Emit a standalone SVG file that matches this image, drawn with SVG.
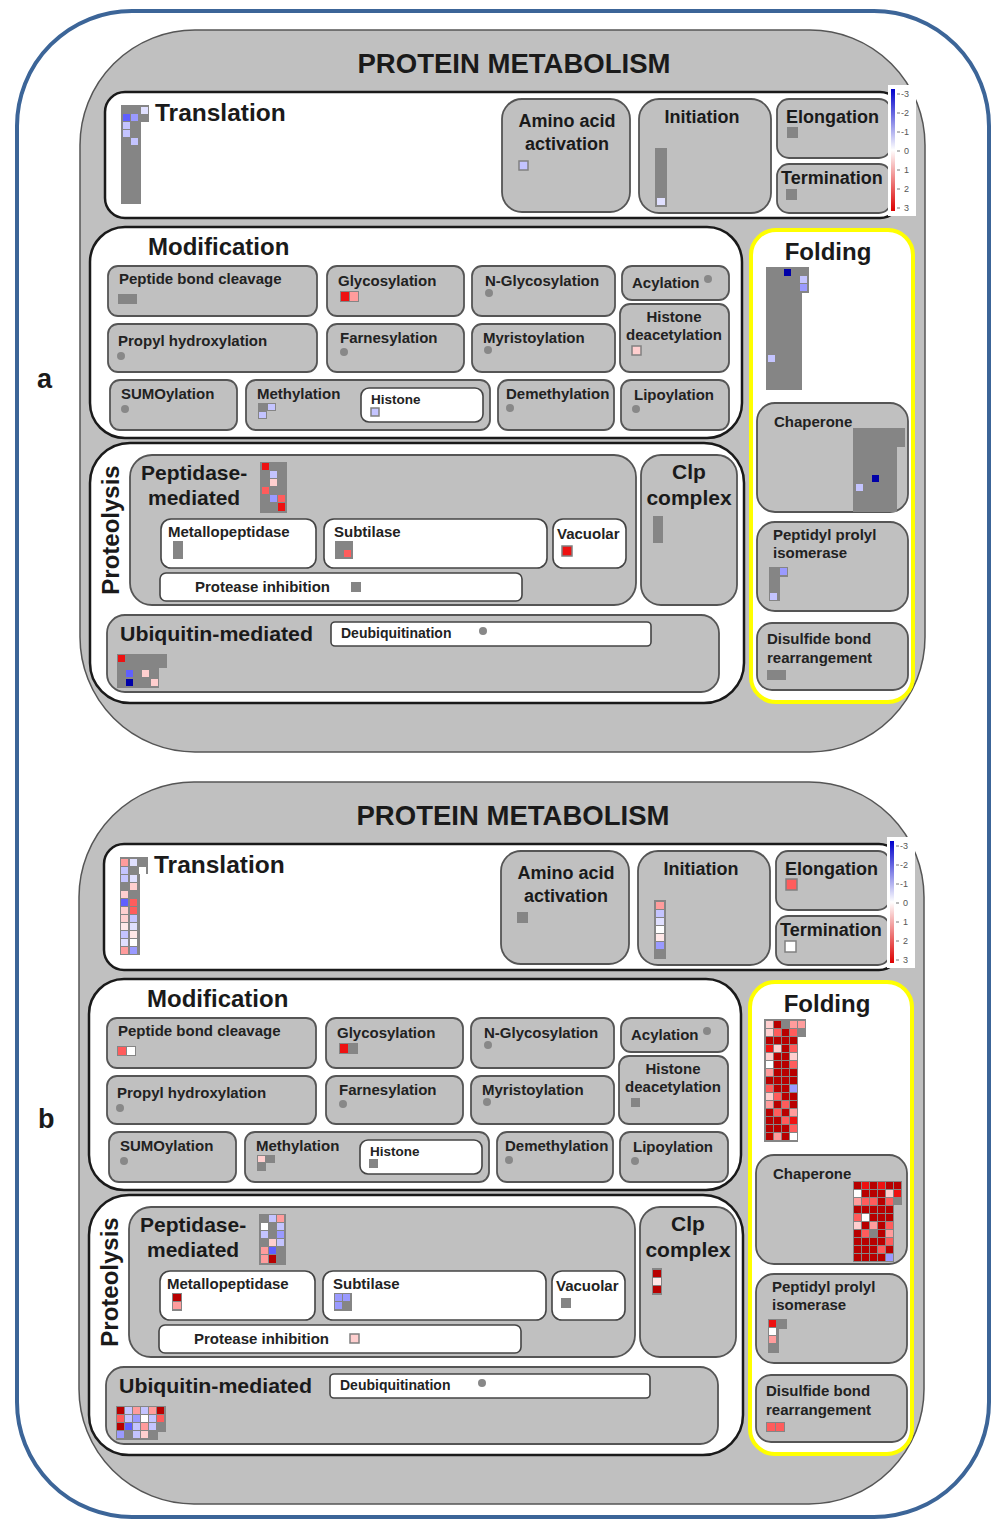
<svg xmlns="http://www.w3.org/2000/svg" width="995" height="1520" viewBox="0 0 995 1520">
<defs>
<linearGradient id="lg" x1="0" y1="0" x2="0" y2="1"><stop offset="0" stop-color="#0000cc"/><stop offset="0.5" stop-color="#ffffff"/><stop offset="1" stop-color="#dd0000"/></linearGradient>
<style>
text{font-family:"Liberation Sans",Arial,sans-serif;font-weight:bold;fill:#1a1a1a}
.pan{fill:#c0c0c0;stroke:#555;stroke-width:1.5}
.wb{fill:#fff;stroke:#1a1a1a;stroke-width:2.5}
.gb{fill:#c0c0c0;stroke:#555;stroke-width:1.8}
.sw{fill:#fff;stroke:#444;stroke-width:1.6}
.fold{fill:#fff;stroke:#ffff00;stroke-width:4}
.h1{font-size:27px}
.h2{font-size:24px}
.tr{font-size:24.5px}
.h3{font-size:18px}
.h4{font-size:21px}
.s{font-size:15px;fill:#222}
.ds{font-size:14px;fill:#222}
.xs{font-size:13.5px;fill:#222}
.lg{font-size:9px;font-weight:normal;fill:#555}
.ab{font-size:27px}
.dot{fill:#888}
.G{fill:#858585}
.D{fill:#b80000}.R{fill:#ee1111}.S{fill:#ff5c5c}.P{fill:#ff9c9c}.L{fill:#ffcfcf}.L2{fill:#ffe8e8}.W{fill:#fff}
.V{fill:#c4c4ff}.V2{fill:#e0e0ff}.U{fill:#9a9aff}.M{fill:#6060ff}.N{fill:#0000a8}
.bd{stroke:#808080;stroke-width:1.5}
</style>
</defs>
<rect x="0" y="0" width="995" height="1520" fill="#fff"/>
<rect id="frame" x="17" y="11" width="972" height="1506" rx="115" ry="115" fill="none" stroke="#3c6598" stroke-width="4"/>
<text class="ab" x="37" y="388">a</text>
<text class="ab" x="38" y="1128">b</text>

<g id="panel-a">
<rect class="pan" x="80" y="30" width="845" height="722" rx="115" ry="115"/>
<text class="h1" x="514" y="73" text-anchor="middle" textLength="313" lengthAdjust="spacingAndGlyphs">PROTEIN METABOLISM</text>
<g id="a-translation"><rect class="wb" x="105" y="92" width="795" height="126" rx="20"/><text class="tr" x="155" y="121">Translation</text>
<rect class="G" x="121" y="105" width="20" height="99"/><rect class="G" x="121" y="105" width="28" height="17"/>
<rect class="V2" x="141" y="107" width="7" height="7"/><rect class="M" x="123" y="114" width="7" height="7"/><rect class="U" x="131" y="114" width="7" height="7"/><rect class="V" x="123" y="122" width="7" height="7"/><rect class="V" x="123" y="130" width="7" height="7"/><rect class="V" x="131" y="138" width="7" height="7"/>
</g>
<g id="a-amino"><rect class="gb" x="502" y="99" width="128" height="113" rx="20"/><text class="h3" x="567" y="127" text-anchor="middle">Amino acid</text><text class="h3" x="567" y="150" text-anchor="middle">activation</text><rect class="V bd" x="519" y="161" width="9" height="9"/></g>
<g id="a-initiation"><rect class="gb" x="639" y="99" width="132" height="114" rx="20"/><text class="h3" x="702" y="123" text-anchor="middle">Initiation</text><rect class="G" x="655" y="148" width="12" height="59"/><rect class="V2" x="657" y="198" width="8" height="7"/></g>
<g id="a-elongation"><rect class="gb" x="777" y="99" width="114" height="59" rx="12"/><text class="h3" x="786" y="123">Elongation</text><rect class="G" x="787" y="127" width="11" height="11"/></g>
<g id="a-termination"><rect class="gb" x="777" y="164" width="114" height="49" rx="12"/><text class="h3" x="781" y="184">Termination</text><rect class="G" x="786" y="189" width="11" height="11"/></g>
<g id="a-legend"><rect x="888" y="85" width="28" height="131" fill="#fff"/><rect x="891" y="89" width="4" height="122" fill="url(#lg)"/>
<g stroke="#777" stroke-width="1"><line x1="897" y1="94" x2="900" y2="94"/><line x1="897" y1="113" x2="900" y2="113"/><line x1="897" y1="132" x2="900" y2="132"/><line x1="897" y1="151" x2="900" y2="151"/><line x1="897" y1="170" x2="900" y2="170"/><line x1="897" y1="189" x2="900" y2="189"/><line x1="897" y1="208" x2="900" y2="208"/></g>
<text class="lg" x="901" y="97">-3</text><text class="lg" x="901" y="116">-2</text><text class="lg" x="901" y="135">-1</text><text class="lg" x="904" y="154">0</text><text class="lg" x="904" y="173">1</text><text class="lg" x="904" y="192">2</text><text class="lg" x="904" y="211">3</text></g>

<g id="a-modification"><rect class="wb" x="90" y="227" width="652" height="211" rx="35"/><text class="h2" x="148" y="255">Modification</text></g>
<g id="a-peptide-bond"><rect class="gb" x="108" y="266" width="209" height="50" rx="10"/><text class="s" x="119" y="284">Peptide bond cleavage</text><rect class="G" x="118" y="294" width="19" height="10"/></g>
<g id="a-glyco"><rect class="gb" x="327" y="266" width="137" height="50" rx="10"/><text class="s" x="338" y="286">Glycosylation</text><rect class="G" x="340" y="291" width="19" height="11"/><rect class="R" x="341" y="292" width="8" height="9"/><rect class="P" x="350" y="292" width="8" height="9"/></g>
<g id="a-nglyco"><rect class="gb" x="472" y="266" width="143" height="50" rx="10"/><text class="s" x="485" y="286">N-Glycosylation</text><circle class="dot" cx="489" cy="293" r="4"/></g>
<g id="a-acylation"><rect class="gb" x="622" y="266" width="107" height="34" rx="10"/><text class="s" x="632" y="288">Acylation</text><circle class="dot" cx="708" cy="279" r="4"/></g>
<g id="a-histone-deac"><rect class="gb" x="620" y="304" width="109" height="68" rx="10"/><text class="s" x="674" y="322" text-anchor="middle">Histone</text><text class="s" x="674" y="340" text-anchor="middle">deacetylation</text><rect class="L bd" x="632" y="346" width="9" height="9"/></g>
<g id="a-propyl"><rect class="gb" x="108" y="324" width="209" height="48" rx="10"/><text class="s" x="118" y="346">Propyl hydroxylation</text><circle class="dot" cx="121" cy="356" r="4"/></g>
<g id="a-farnes"><rect class="gb" x="327" y="324" width="137" height="48" rx="10"/><text class="s" x="340" y="343">Farnesylation</text><circle class="dot" cx="344" cy="352" r="4"/></g>
<g id="a-myrist"><rect class="gb" x="472" y="324" width="143" height="48" rx="10"/><text class="s" x="483" y="343">Myristoylation</text><circle class="dot" cx="488" cy="350" r="4"/></g>
<g id="a-sumo"><rect class="gb" x="110" y="380" width="127" height="50" rx="10"/><text class="s" x="121" y="399">SUMOylation</text><circle class="dot" cx="125" cy="409" r="4"/></g>
<g id="a-methyl"><rect class="gb" x="246" y="380" width="244" height="50" rx="10"/><text class="s" x="257" y="399">Methylation</text><rect class="G" x="258" y="403" width="18" height="8"/><rect class="G" x="258" y="411" width="9" height="8"/><rect class="V" x="268" y="404" width="7" height="6"/><rect class="V" x="259" y="412" width="7" height="6"/></g>
<g id="a-histone"><rect class="sw" x="361" y="388" width="122" height="34" rx="8"/><text class="xs" x="371" y="404">Histone</text><rect class="V bd" x="371" y="408" width="8" height="8"/></g>
<g id="a-demethyl"><rect class="gb" x="498" y="380" width="116" height="50" rx="10"/><text class="s" x="506" y="399">Demethylation</text><circle class="dot" cx="510" cy="408" r="4"/></g>
<g id="a-lipoyl"><rect class="gb" x="621" y="380" width="108" height="50" rx="10"/><text class="s" x="634" y="400">Lipoylation</text><circle class="dot" cx="636" cy="409" r="4"/></g>

<g id="a-proteolysis"><rect class="wb" x="90" y="443" width="654" height="260" rx="40"/><text class="h2" transform="translate(119,530) rotate(-90)" text-anchor="middle">Proteolysis</text></g>
<g id="a-peptidase"><rect class="gb" x="130" y="455" width="506" height="150" rx="22"/><text class="h4" x="141" y="480">Peptidase-</text><text class="h4" x="148" y="505">mediated</text>
<rect class="G" x="260" y="462" width="27" height="51"/><rect class="R" x="262" y="463" width="7" height="7"/><rect class="V" x="270" y="471" width="7" height="7"/><rect class="L" x="270" y="479" width="7" height="7"/><rect class="S" x="262" y="487" width="7" height="7"/><rect class="U" x="270" y="495" width="7" height="7"/><rect class="S" x="278" y="495" width="7" height="7"/><rect class="R" x="278" y="503" width="7" height="8"/></g>
<g id="a-metallo"><rect class="sw" x="161" y="519" width="155" height="49" rx="10"/><text class="s" x="168" y="537">Metallopeptidase</text><rect class="G" x="173" y="541" width="10" height="18"/></g>
<g id="a-subtilase"><rect class="sw" x="324" y="519" width="223" height="49" rx="10"/><text class="s" x="334" y="537">Subtilase</text><rect class="G" x="335" y="541" width="18" height="18"/><rect class="S" x="344" y="550" width="7" height="7"/></g>
<g id="a-vacuolar"><rect class="sw" x="553" y="519" width="73" height="49" rx="10"/><text class="s" x="557" y="539">Vacuolar</text><rect class="R bd" x="562" y="546" width="10" height="10"/></g>
<g id="a-protease-inh"><rect class="sw" x="160" y="573" width="362" height="28" rx="6"/><text class="s" x="195" y="592">Protease inhibition</text><rect class="G" x="351" y="582" width="10" height="10"/></g>
<g id="a-clp"><rect class="gb" x="641" y="455" width="96" height="150" rx="20"/><text class="h4" x="689" y="479" text-anchor="middle">Clp</text><text class="h4" x="689" y="505" text-anchor="middle">complex</text><rect class="G" x="653" y="516" width="10" height="27"/></g>
<g id="a-ubiquitin"><rect class="gb" x="107" y="615" width="612" height="77" rx="18"/><text class="h4" x="120" y="641" textLength="193" lengthAdjust="spacingAndGlyphs">Ubiquitin-mediated</text>
<rect class="G" x="117" y="654" width="50" height="14"/><rect class="G" x="117" y="668" width="42" height="20"/><rect class="R" x="118" y="655" width="7" height="7"/><rect class="M" x="126" y="670" width="7" height="7"/><rect class="L" x="142" y="670" width="7" height="7"/><rect class="N" x="126" y="679" width="7" height="7"/><rect class="L" x="151" y="679" width="7" height="7"/></g>
<g id="a-deubiq"><rect class="sw" x="331" y="622" width="320" height="24" rx="4"/><text class="ds" x="341" y="638">Deubiquitination</text><circle class="dot" cx="483" cy="631" r="4"/></g>

<g id="a-folding"><rect class="fold" x="751" y="230" width="162" height="472" rx="25"/><text class="h2" x="828" y="260" text-anchor="middle">Folding</text>
<rect class="G" x="766" y="267" width="36" height="123"/><rect class="G" x="766" y="267" width="43" height="26"/><rect class="N" x="784" y="269" width="7" height="7"/><rect class="V" x="800" y="276" width="7" height="7"/><rect class="U" x="800" y="284" width="7" height="7"/><rect class="V" x="768" y="355" width="7" height="7"/></g>
<g id="a-chaperone"><rect class="gb" x="757" y="403" width="151" height="109" rx="18"/><text class="s" x="774" y="427">Chaperone</text><rect class="G" x="853" y="428" width="52" height="19"/><rect class="G" x="853" y="447" width="44" height="65"/><rect class="N" x="872" y="475" width="7" height="7"/><rect class="V" x="856" y="484" width="7" height="7"/></g>
<g id="a-peptidyl"><rect class="gb" x="757" y="522" width="151" height="89" rx="18"/><text class="s" x="773" y="540">Peptidyl prolyl</text><text class="s" x="773" y="558">isomerase</text><rect class="G" x="769" y="567" width="19" height="10"/><rect class="G" x="769" y="577" width="11" height="24"/><rect class="U" x="780" y="568" width="7" height="7"/><rect class="V" x="770" y="593" width="7" height="7"/></g>
<g id="a-disulfide"><rect class="gb" x="757" y="623" width="151" height="67" rx="15"/><text class="s" x="767" y="644">Disulfide bond</text><text class="s" x="767" y="663">rearrangement</text><rect class="G" x="767" y="670" width="19" height="10"/></g>
</g>

<g id="panel-b" transform="translate(-1,752)">
<rect class="pan" x="80" y="30" width="845" height="722" rx="115" ry="115"/>
<text class="h1" x="514" y="73" text-anchor="middle" textLength="313" lengthAdjust="spacingAndGlyphs">PROTEIN METABOLISM</text>
<g id="b-translation"><rect class="wb" x="105" y="92" width="795" height="126" rx="20"/><text class="tr" x="155" y="121">Translation</text>
<rect class="G" x="121" y="105" width="20" height="98"/><rect class="G" x="121" y="105" width="28" height="17"/>
<rect class="P" x="122" y="107" width="7" height="7"/><rect class="V2" x="131" y="107" width="7" height="7"/>
<rect class="V" x="122" y="115" width="7" height="7"/><rect class="W" x="140" y="115" width="7" height="7"/>
<rect class="V" x="122" y="123" width="7" height="7"/><rect class="V2" x="131" y="123" width="7" height="7"/>
<rect class="L" x="131" y="131" width="7" height="7"/>
<rect class="L" x="122" y="139" width="7" height="7"/>
<rect class="M" x="122" y="147" width="7" height="7"/><rect class="S" x="131" y="147" width="7" height="7"/>
<rect class="L" x="122" y="155" width="7" height="7"/><rect class="S" x="131" y="155" width="7" height="7"/>
<rect class="L" x="122" y="163" width="7" height="7"/><rect class="V" x="131" y="163" width="7" height="7"/>
<rect class="L2" x="122" y="171" width="7" height="7"/><rect class="V2" x="131" y="171" width="7" height="7"/>
<rect class="V" x="122" y="179" width="7" height="7"/><rect class="L2" x="131" y="179" width="7" height="7"/>
<rect class="V2" x="122" y="187" width="7" height="7"/><rect class="W" x="131" y="187" width="7" height="7"/>
<rect class="P" x="122" y="195" width="7" height="7"/><rect class="U" x="131" y="195" width="7" height="7"/>
</g>
<g id="b-amino"><rect class="gb" x="502" y="99" width="128" height="113" rx="20"/><text class="h3" x="567" y="127" text-anchor="middle">Amino acid</text><text class="h3" x="567" y="150" text-anchor="middle">activation</text><rect class="G" x="518" y="160" width="11" height="11"/></g>
<g id="b-initiation"><rect class="gb" x="639" y="99" width="132" height="114" rx="20"/><text class="h3" x="702" y="123" text-anchor="middle">Initiation</text><rect class="G" x="655" y="148" width="12" height="59"/>
<rect class="P" x="657" y="150" width="8" height="7"/><rect class="V" x="657" y="158" width="8" height="7"/><rect class="V2" x="657" y="166" width="8" height="7"/><rect class="W" x="657" y="174" width="8" height="7"/><rect class="L2" x="657" y="182" width="8" height="7"/><rect class="U" x="657" y="190" width="8" height="7"/></g>
<g id="b-elongation"><rect class="gb" x="777" y="99" width="114" height="59" rx="12"/><text class="h3" x="786" y="123">Elongation</text><rect class="S bd" x="787" y="127" width="11" height="11"/></g>
<g id="b-termination"><rect class="gb" x="777" y="164" width="114" height="49" rx="12"/><text class="h3" x="781" y="184">Termination</text><rect class="W bd" x="786" y="189" width="11" height="11"/></g>
<g id="b-legend"><rect x="888" y="85" width="28" height="131" fill="#fff"/><rect x="891" y="89" width="4" height="122" fill="url(#lg)"/>
<g stroke="#777" stroke-width="1"><line x1="897" y1="94" x2="900" y2="94"/><line x1="897" y1="113" x2="900" y2="113"/><line x1="897" y1="132" x2="900" y2="132"/><line x1="897" y1="151" x2="900" y2="151"/><line x1="897" y1="170" x2="900" y2="170"/><line x1="897" y1="189" x2="900" y2="189"/><line x1="897" y1="208" x2="900" y2="208"/></g>
<text class="lg" x="901" y="97">-3</text><text class="lg" x="901" y="116">-2</text><text class="lg" x="901" y="135">-1</text><text class="lg" x="904" y="154">0</text><text class="lg" x="904" y="173">1</text><text class="lg" x="904" y="192">2</text><text class="lg" x="904" y="211">3</text></g>

<g id="b-modification"><rect class="wb" x="90" y="227" width="652" height="211" rx="35"/><text class="h2" x="148" y="255">Modification</text></g>
<g id="b-peptide-bond"><rect class="gb" x="108" y="266" width="209" height="50" rx="10"/><text class="s" x="119" y="284">Peptide bond cleavage</text><rect class="G" x="118" y="294" width="19" height="10"/><rect class="S" x="119" y="295" width="8" height="8"/><rect class="W" x="128" y="295" width="8" height="8"/></g>
<g id="b-glyco"><rect class="gb" x="327" y="266" width="137" height="50" rx="10"/><text class="s" x="338" y="286">Glycosylation</text><rect class="G" x="340" y="291" width="19" height="11"/><rect class="R" x="341" y="292" width="8" height="9"/></g>
<g id="b-nglyco"><rect class="gb" x="472" y="266" width="143" height="50" rx="10"/><text class="s" x="485" y="286">N-Glycosylation</text><circle class="dot" cx="489" cy="293" r="4"/></g>
<g id="b-acylation"><rect class="gb" x="622" y="266" width="107" height="34" rx="10"/><text class="s" x="632" y="288">Acylation</text><circle class="dot" cx="708" cy="279" r="4"/></g>
<g id="b-histone-deac"><rect class="gb" x="620" y="304" width="109" height="68" rx="10"/><text class="s" x="674" y="322" text-anchor="middle">Histone</text><text class="s" x="674" y="340" text-anchor="middle">deacetylation</text><rect class="G" x="632" y="346" width="9" height="9"/></g>
<g id="b-propyl"><rect class="gb" x="108" y="324" width="209" height="48" rx="10"/><text class="s" x="118" y="346">Propyl hydroxylation</text><circle class="dot" cx="121" cy="356" r="4"/></g>
<g id="b-farnes"><rect class="gb" x="327" y="324" width="137" height="48" rx="10"/><text class="s" x="340" y="343">Farnesylation</text><circle class="dot" cx="344" cy="352" r="4"/></g>
<g id="b-myrist"><rect class="gb" x="472" y="324" width="143" height="48" rx="10"/><text class="s" x="483" y="343">Myristoylation</text><circle class="dot" cx="488" cy="350" r="4"/></g>
<g id="b-sumo"><rect class="gb" x="110" y="380" width="127" height="50" rx="10"/><text class="s" x="121" y="399">SUMOylation</text><circle class="dot" cx="125" cy="409" r="4"/></g>
<g id="b-methyl"><rect class="gb" x="246" y="380" width="244" height="50" rx="10"/><text class="s" x="257" y="399">Methylation</text><rect class="G" x="258" y="403" width="18" height="8"/><rect class="G" x="258" y="411" width="9" height="8"/><rect class="L" x="259" y="404" width="7" height="6"/></g>
<g id="b-histone"><rect class="sw" x="361" y="388" width="122" height="34" rx="8"/><text class="xs" x="371" y="404">Histone</text><rect class="G" x="370" y="407" width="9" height="9"/></g>
<g id="b-demethyl"><rect class="gb" x="498" y="380" width="116" height="50" rx="10"/><text class="s" x="506" y="399">Demethylation</text><circle class="dot" cx="510" cy="408" r="4"/></g>
<g id="b-lipoyl"><rect class="gb" x="621" y="380" width="108" height="50" rx="10"/><text class="s" x="634" y="400">Lipoylation</text><circle class="dot" cx="636" cy="409" r="4"/></g>

<g id="b-proteolysis"><rect class="wb" x="90" y="443" width="654" height="260" rx="40"/><text class="h2" transform="translate(119,530) rotate(-90)" text-anchor="middle">Proteolysis</text></g>
<g id="b-peptidase"><rect class="gb" x="130" y="455" width="506" height="150" rx="22"/><text class="h4" x="141" y="480">Peptidase-</text><text class="h4" x="148" y="505">mediated</text>
<rect class="G" x="260" y="462" width="27" height="51"/>
<rect class="V" x="270" y="463" width="7" height="7"/><rect class="P" x="278" y="463" width="7" height="7"/>
<rect class="W" x="262" y="471" width="7" height="7"/><rect class="V" x="278" y="471" width="7" height="7"/>
<rect class="V" x="262" y="479" width="7" height="7"/><rect class="U" x="278" y="479" width="7" height="7"/>
<rect class="L" x="270" y="487" width="7" height="7"/><rect class="V" x="278" y="487" width="7" height="7"/>
<rect class="P" x="262" y="495" width="7" height="7"/><rect class="M" x="270" y="495" width="7" height="7"/>
<rect class="P" x="262" y="503" width="7" height="8"/><rect class="D" x="270" y="503" width="7" height="8"/></g>
<g id="b-metallo"><rect class="sw" x="161" y="519" width="155" height="49" rx="10"/><text class="s" x="168" y="537">Metallopeptidase</text><rect class="G" x="173" y="541" width="10" height="18"/><rect class="D" x="174" y="542" width="8" height="7"/><rect class="P" x="174" y="550" width="8" height="7"/></g>
<g id="b-subtilase"><rect class="sw" x="324" y="519" width="223" height="49" rx="10"/><text class="s" x="334" y="537">Subtilase</text><rect class="G" x="335" y="541" width="18" height="18"/><rect class="U" x="336" y="542" width="7" height="7"/><rect class="U" x="344" y="542" width="7" height="7"/><rect class="U" x="336" y="550" width="7" height="7"/></g>
<g id="b-vacuolar"><rect class="sw" x="553" y="519" width="73" height="49" rx="10"/><text class="s" x="557" y="539">Vacuolar</text><rect class="G" x="562" y="546" width="10" height="10"/></g>
<g id="b-protease-inh"><rect class="sw" x="160" y="573" width="362" height="28" rx="6"/><text class="s" x="195" y="592">Protease inhibition</text><rect class="L bd" x="351" y="582" width="9" height="9"/></g>
<g id="b-clp"><rect class="gb" x="641" y="455" width="96" height="150" rx="20"/><text class="h4" x="689" y="479" text-anchor="middle">Clp</text><text class="h4" x="689" y="505" text-anchor="middle">complex</text><rect class="G" x="653" y="516" width="10" height="27"/><rect class="D" x="654" y="518" width="8" height="7"/><rect class="L2" x="654" y="526" width="8" height="7"/><rect class="D" x="654" y="534" width="8" height="7"/></g>
<g id="b-ubiquitin"><rect class="gb" x="107" y="615" width="612" height="77" rx="18"/><text class="h4" x="120" y="641" textLength="193" lengthAdjust="spacingAndGlyphs">Ubiquitin-mediated</text>
<rect class="G" x="117" y="654" width="50" height="26"/><rect class="G" x="117" y="680" width="42" height="8"/>
<rect class="D" x="118" y="655" width="7" height="7"/><rect class="V" x="126" y="655" width="7" height="7"/><rect class="P" x="134" y="655" width="7" height="7"/><rect class="V" x="142" y="655" width="7" height="7"/><rect class="P" x="150" y="655" width="7" height="7"/><rect class="D" x="158" y="655" width="7" height="7"/>
<rect class="S" x="118" y="663" width="7" height="7"/><rect class="V" x="126" y="663" width="7" height="7"/><rect class="U" x="134" y="663" width="7" height="7"/><rect class="W" x="142" y="663" width="7" height="7"/><rect class="V" x="150" y="663" width="7" height="7"/><rect class="S" x="158" y="663" width="7" height="7"/>
<rect class="D" x="118" y="671" width="7" height="7"/><rect class="M" x="126" y="671" width="7" height="7"/><rect class="V" x="134" y="671" width="7" height="7"/><rect class="P" x="142" y="671" width="7" height="7"/><rect class="V" x="150" y="671" width="7" height="7"/>
<rect class="U" x="118" y="679" width="7" height="7"/><rect class="V" x="134" y="679" width="7" height="7"/><rect class="L" x="142" y="679" width="7" height="7"/></g>
<g id="b-deubiq"><rect class="sw" x="331" y="622" width="320" height="24" rx="4"/><text class="ds" x="341" y="638">Deubiquitination</text><circle class="dot" cx="483" cy="631" r="4"/></g>

<g id="b-folding"><rect class="fold" x="751" y="230" width="162" height="472" rx="25"/><text class="h2" x="828" y="260" text-anchor="middle">Folding</text>
<rect class="G" x="765" y="267" width="34" height="123"/><rect class="G" x="765" y="267" width="42" height="18"/>
<rect class="L" x="767" y="269" width="7" height="7"/><rect class="D" x="775" y="269" width="7" height="7"/><rect class="P" x="791" y="269" width="7" height="7"/><rect class="P" x="799" y="269" width="7" height="7"/>
<rect class="L" x="767" y="277" width="7" height="7"/><rect class="S" x="775" y="277" width="7" height="7"/><rect class="D" x="783" y="277" width="7" height="7"/><rect class="S" x="791" y="277" width="7" height="7"/>
<rect class="D" x="767" y="285" width="7" height="7"/><rect class="D" x="775" y="285" width="7" height="7"/><rect class="D" x="783" y="285" width="7" height="7"/><rect class="D" x="791" y="285" width="7" height="7"/>
<rect class="R" x="767" y="293" width="7" height="7"/><rect class="L" x="775" y="293" width="7" height="7"/><rect class="D" x="783" y="293" width="7" height="7"/><rect class="S" x="791" y="293" width="7" height="7"/>
<rect class="L" x="767" y="301" width="7" height="7"/><rect class="D" x="775" y="301" width="7" height="7"/><rect class="D" x="783" y="301" width="7" height="7"/><rect class="L" x="791" y="301" width="7" height="7"/>
<rect class="W" x="767" y="309" width="7" height="7"/><rect class="D" x="775" y="309" width="7" height="7"/><rect class="D" x="783" y="309" width="7" height="7"/><rect class="S" x="791" y="309" width="7" height="7"/>
<rect class="P" x="767" y="317" width="7" height="7"/><rect class="D" x="775" y="317" width="7" height="7"/><rect class="D" x="783" y="317" width="7" height="7"/><rect class="D" x="791" y="317" width="7" height="7"/>
<rect class="D" x="767" y="325" width="7" height="7"/><rect class="D" x="775" y="325" width="7" height="7"/><rect class="D" x="783" y="325" width="7" height="7"/><rect class="D" x="791" y="325" width="7" height="7"/>
<rect class="S" x="767" y="333" width="7" height="7"/><rect class="D" x="775" y="333" width="7" height="7"/><rect class="D" x="783" y="333" width="7" height="7"/><rect class="U" x="791" y="333" width="7" height="7"/>
<rect class="L" x="767" y="341" width="7" height="7"/><rect class="S" x="775" y="341" width="7" height="7"/><rect class="D" x="783" y="341" width="7" height="7"/><rect class="D" x="791" y="341" width="7" height="7"/>
<rect class="P" x="767" y="349" width="7" height="7"/><rect class="D" x="775" y="349" width="7" height="7"/><rect class="S" x="783" y="349" width="7" height="7"/><rect class="D" x="791" y="349" width="7" height="7"/>
<rect class="D" x="767" y="357" width="7" height="7"/><rect class="S" x="775" y="357" width="7" height="7"/><rect class="D" x="783" y="357" width="7" height="7"/><rect class="P" x="791" y="357" width="7" height="7"/>
<rect class="D" x="767" y="365" width="7" height="7"/><rect class="D" x="775" y="365" width="7" height="7"/><rect class="S" x="783" y="365" width="7" height="7"/><rect class="R" x="791" y="365" width="7" height="7"/>
<rect class="D" x="767" y="373" width="7" height="7"/><rect class="D" x="775" y="373" width="7" height="7"/><rect class="D" x="783" y="373" width="7" height="7"/><rect class="S" x="791" y="373" width="7" height="7"/>
<rect class="D" x="767" y="381" width="7" height="7"/><rect class="P" x="775" y="381" width="7" height="7"/><rect class="D" x="783" y="381" width="7" height="7"/><rect class="W" x="791" y="381" width="7" height="7"/>
</g>
<g id="b-chaperone"><rect class="gb" x="757" y="403" width="151" height="109" rx="18"/><text class="s" x="774" y="427">Chaperone</text>
<rect class="G" x="854" y="429" width="49" height="24"/><rect class="G" x="854" y="429" width="41" height="81"/>
<rect class="D" x="855" y="430" width="7" height="7"/><rect class="R" x="863" y="430" width="7" height="7"/><rect class="D" x="871" y="430" width="7" height="7"/><rect class="R" x="879" y="430" width="7" height="7"/><rect class="D" x="887" y="430" width="7" height="7"/><rect class="D" x="895" y="430" width="7" height="7"/>
<rect class="W" x="855" y="438" width="7" height="7"/><rect class="D" x="863" y="438" width="7" height="7"/><rect class="D" x="871" y="438" width="7" height="7"/><rect class="D" x="879" y="438" width="7" height="7"/><rect class="L" x="887" y="438" width="7" height="7"/><rect class="R" x="895" y="438" width="7" height="7"/>
<rect class="P" x="855" y="446" width="7" height="7"/><rect class="S" x="863" y="446" width="7" height="7"/><rect class="S" x="871" y="446" width="7" height="7"/><rect class="D" x="879" y="446" width="7" height="7"/><rect class="S" x="887" y="446" width="7" height="7"/>
<rect class="D" x="855" y="454" width="7" height="7"/><rect class="D" x="863" y="454" width="7" height="7"/><rect class="D" x="871" y="454" width="7" height="7"/><rect class="D" x="879" y="454" width="7" height="7"/><rect class="D" x="887" y="454" width="7" height="7"/>
<rect class="S" x="855" y="462" width="7" height="7"/><rect class="W" x="863" y="462" width="7" height="7"/><rect class="D" x="871" y="462" width="7" height="7"/><rect class="D" x="879" y="462" width="7" height="7"/><rect class="D" x="887" y="462" width="7" height="7"/>
<rect class="L" x="855" y="470" width="7" height="7"/><rect class="D" x="863" y="470" width="7" height="7"/><rect class="P" x="871" y="470" width="7" height="7"/><rect class="D" x="879" y="470" width="7" height="7"/><rect class="S" x="887" y="470" width="7" height="7"/>
<rect class="D" x="855" y="478" width="7" height="7"/><rect class="S" x="863" y="478" width="7" height="7"/><rect class="D" x="879" y="478" width="7" height="7"/><rect class="P" x="887" y="478" width="7" height="7"/>
<rect class="D" x="855" y="486" width="7" height="7"/><rect class="D" x="863" y="486" width="7" height="7"/><rect class="D" x="871" y="486" width="7" height="7"/><rect class="D" x="879" y="486" width="7" height="7"/><rect class="S" x="887" y="486" width="7" height="7"/>
<rect class="D" x="855" y="494" width="7" height="7"/><rect class="D" x="863" y="494" width="7" height="7"/><rect class="D" x="871" y="494" width="7" height="7"/><rect class="S" x="879" y="494" width="7" height="7"/><rect class="D" x="887" y="494" width="7" height="7"/>
<rect class="D" x="855" y="502" width="7" height="7"/><rect class="D" x="863" y="502" width="7" height="7"/><rect class="D" x="871" y="502" width="7" height="7"/><rect class="D" x="879" y="502" width="7" height="7"/><rect class="U" x="887" y="502" width="7" height="7"/>
</g>
<g id="b-peptidyl"><rect class="gb" x="757" y="522" width="151" height="89" rx="18"/><text class="s" x="773" y="540">Peptidyl prolyl</text><text class="s" x="773" y="558">isomerase</text><rect class="G" x="769" y="567" width="19" height="10"/><rect class="G" x="769" y="577" width="11" height="24"/><rect class="R" x="770" y="568" width="7" height="7"/><rect class="W" x="770" y="576" width="7" height="7"/><rect class="P" x="770" y="584" width="7" height="7"/></g>
<g id="b-disulfide"><rect class="gb" x="757" y="623" width="151" height="67" rx="15"/><text class="s" x="767" y="644">Disulfide bond</text><text class="s" x="767" y="663">rearrangement</text><rect class="G" x="767" y="670" width="19" height="10"/><rect class="S" x="768" y="671" width="8" height="8"/><rect class="S" x="777" y="671" width="8" height="8"/></g>
</g>
<g id="connectors"></g>
</svg>
